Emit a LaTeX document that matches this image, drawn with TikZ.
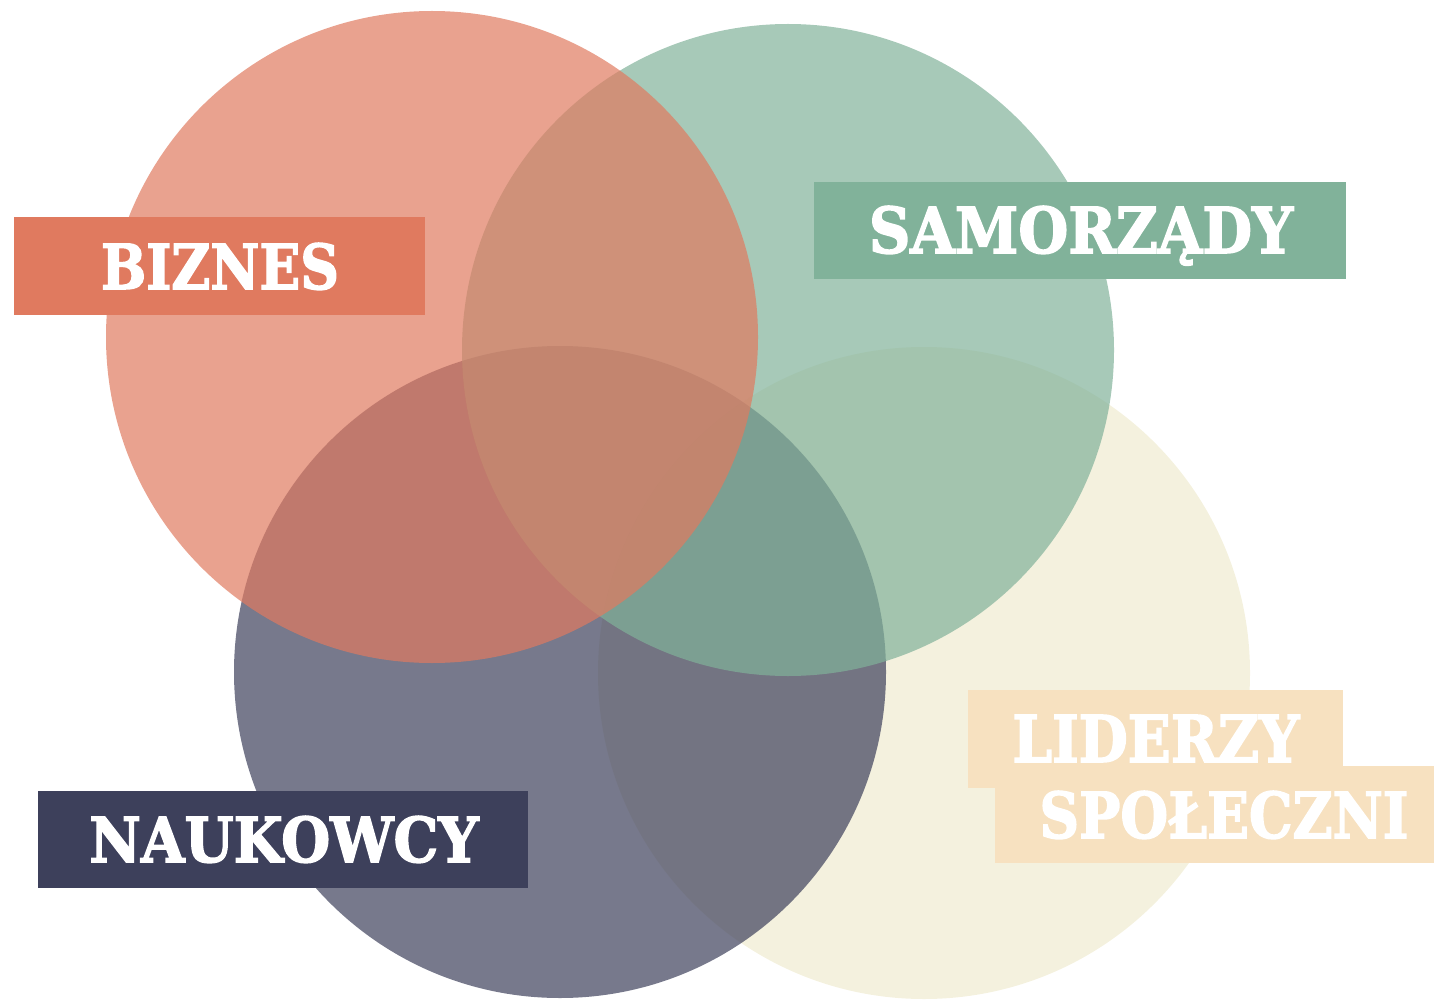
\documentclass[tikz,border=0pt]{standalone}
\usepackage{fontspec}
\newfontfamily\labfont[BoldFeatures={FakeBold=2.5}]{DejaVu Serif}
\definecolor{cred}{HTML}{E07A5F}
\definecolor{cgreen}{HTML}{81B29A}
\definecolor{cnavy}{HTML}{3D405B}
\definecolor{cbeige}{HTML}{F4F1DE}
\definecolor{cpeach}{HTML}{F7E1C0}
\tikzset{
  venn/.style={circle, draw=none, fill opacity=0.7, inner sep=0pt, minimum size=652pt},
  labbox/.style={draw=none, inner sep=0pt, anchor=north west},
  labtext/.style={text=white, inner sep=0pt, anchor=base, font=\labfont\bfseries}
}
\begin{document}
\begin{tikzpicture}[x=1pt, y=-1pt]
\useasboundingbox (0,0) rectangle (1434,1000);
% circles (bottom to top)
\node[venn, fill=cbeige, fill opacity=1] (cbeig) at (924,673) {};
\node[venn, fill=cnavy] (cnav) at (560,672) {};
\node[venn, fill=cgreen] (cgre) at (788,350) {};
\node[venn, fill=cred] (cre) at (432,337) {};
% label boxes
\node[labbox, fill=cred, minimum width=411pt, minimum height=98pt] (bbiz) at (14,217) {};
\node[labbox, fill=cgreen, minimum width=532pt, minimum height=97pt] (bsam) at (814,182) {};
\node[labbox, fill=cnavy, minimum width=490pt, minimum height=97pt] (bnau) at (38,791) {};
\node[labbox, fill=cpeach, minimum width=375pt, minimum height=98pt] (blid) at (968,690) {};
\node[labbox, fill=cpeach, minimum width=439pt, minimum height=97pt] (bspo) at (995,766) {};
% label texts
\node[labtext] (tbiz) at (220,289) {\resizebox{238pt}{46pt}{BIZNES}};
\node[labtext] (tsam) at (1081,253) {\resizebox{424pt}{47pt}{SAMORZĄDY}};
\node[labtext] (tnau) at (284,862) {\resizebox{389pt}{46pt}{NAUKOWCY}};
\node[labtext] (tlid) at (1156,762) {\resizebox{287pt}{47pt}{LIDERZY}};
\node[labtext] (tspo) at (1224,838) {\resizebox{369pt}{47pt}{SPOŁECZNI}};
\end{tikzpicture}
\end{document}
